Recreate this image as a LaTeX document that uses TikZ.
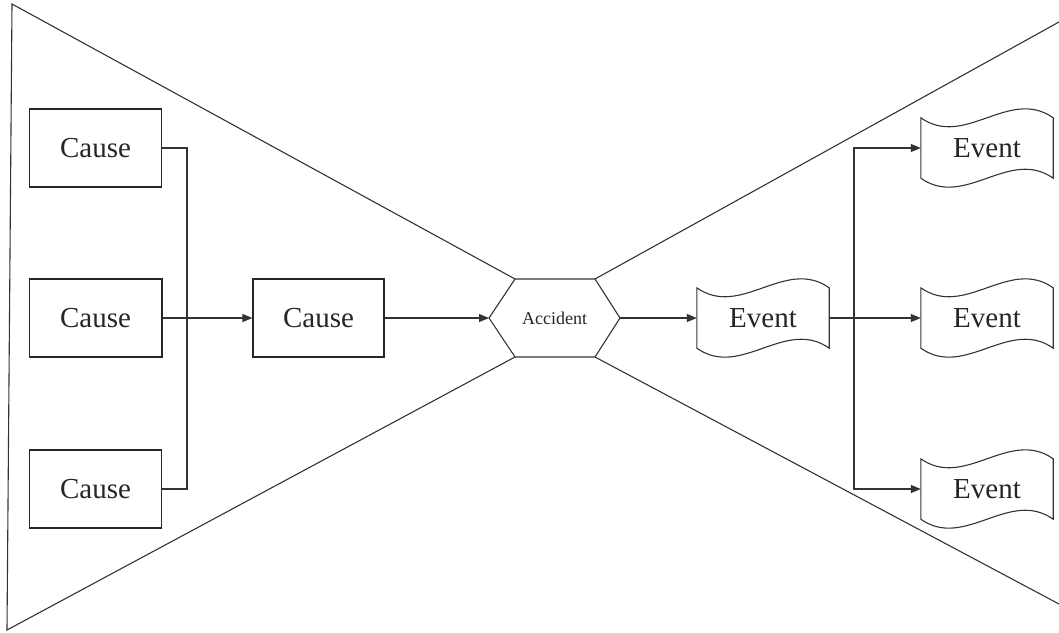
\documentclass[tikz,border=0pt]{standalone}
\usepackage{fontspec}
\setmainfont{Liberation Serif}
\usetikzlibrary{arrows.meta,calc}
\begin{document}
\begin{tikzpicture}[x=1pt,y=-1pt,
  ln/.style={draw=black!80, line width=1.1pt},
  causebox/.style={draw=black!85, line width=1.1pt, minimum width=132pt, minimum height=78pt, inner sep=0pt, font=\fontsize{29}{34}\selectfont, text=black!85},
  eventtxt/.style={minimum width=132pt, minimum height=60pt, inner sep=0pt, font=\fontsize{29}{34}\selectfont, text=black!85},
  acctxt/.style={inner sep=0pt, font=\fontsize{18}{21}\selectfont, text=black!85},
  arr/.style={ln, -{Triangle[length=10pt,width=8pt]}}]

\useasboundingbox (0,0) rectangle (1059,632);

% bow-tie outline
\coordinate (tTL) at (12,4);
\coordinate (tBL) at (7,630);
\coordinate (tTR) at (1059,22);
\coordinate (tBR) at (1059,604);
% hexagon corners
\coordinate (hL)  at (489,318);
\coordinate (hUL) at (515,279);
\coordinate (hUR) at (595,279);
\coordinate (hR)  at (620,318);
\coordinate (hLR) at (595,357);
\coordinate (hLL) at (515,357);

\draw[ln] (hUL) -- (tTL) -- (tBL) -- (hLL);
\draw[ln] (hUR) -- (tTR);
\draw[ln] (hLR) -- (tBR);
\draw[ln] (hL) -- (hUL) -- (hUR) -- (hR) -- (hLR) -- (hLL) -- cycle;

% nodes
\node[causebox] (c1) at (95.5,148) {Cause};
\node[causebox] (c2) at (95.5,318) {Cause};
\node[causebox] (c3) at (95.5,489) {Cause};
\node[causebox, minimum width=131pt] (c4) at (318.5,318) {Cause};
\node[acctxt] (acc) at (554.5,318) {Accident};

\draw[black!85, line width=2.2pt] (c2.north east) -- (c2.south east);

\node[eventtxt] (e0) at (763,318) {Event};
\node[eventtxt] (e1) at (987,148) {Event};
\node[eventtxt] (e2) at (987,318) {Event};
\node[eventtxt] (e3) at (987,489) {Event};

\foreach \n in {e0,e1,e2,e3}{
  \draw[ln] (\n.north west)
    .. controls ($(\n.north west)+(44,31)$) and ($(\n.north east)+(-44,-31)$) .. (\n.north east)
    -- (\n.south east)
    .. controls ($(\n.south east)+(-44,-31)$) and ($(\n.south west)+(44,31)$) .. (\n.south west)
    -- cycle;
}

% connectors
\coordinate (jL) at (187,318);
\draw[ln] (c1.east) -| (jL);
\draw[ln] (c3.east) -| (jL);
\draw[arr] (c2.east) -- (c4.west);
\draw[arr] (c4.east) -- (hL);
\draw[arr] (hR) -- (e0.west);

\coordinate (jR) at (854,318);
\draw[arr] (jR) |- (e1.west);
\draw[arr] (jR) |- (e3.west);
\draw[arr] (e0.east) -- (e2.west);

\end{tikzpicture}
\end{document}
